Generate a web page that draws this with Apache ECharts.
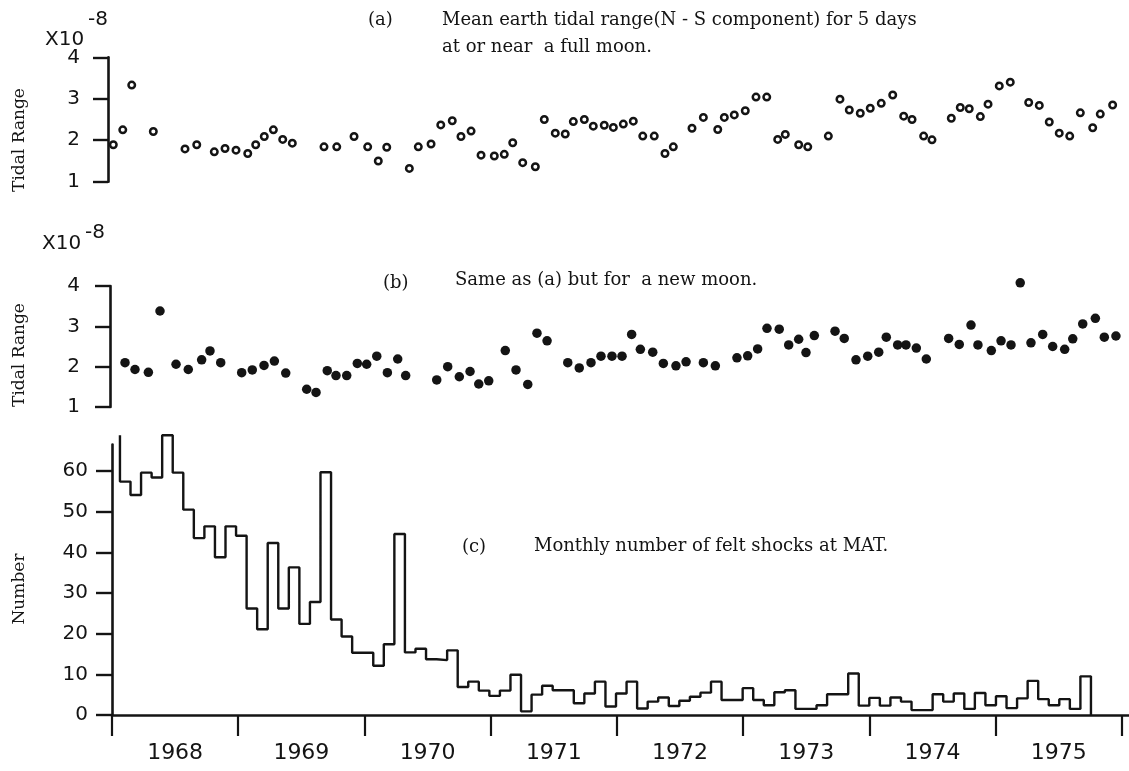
<!DOCTYPE html>
<html>
<head>
<meta charset="utf-8">
<script src="https://cdn.jsdelivr.net/npm/echarts@6/dist/echarts.min.js"></script>
<style>
html,body{margin:0;padding:0;background:#ffffff;}
#chart{width:1129px;height:771px;}
</style>
</head>
<body>
<div id="chart"></div>
<script>
// ---- Data ----
// (a) full moon: observation time (decimal year) and tidal range (x10^-8)
const fullMoonYear = [1968.010,1968.085,1968.156,1968.327,1968.578,1968.671,1968.810,1968.895,1968.982,1969.075,1969.138,1969.206,1969.278,1969.352,1969.428,1969.679,1969.780,1969.917,1970.025,1970.109,1970.176,1970.355,1970.426,1970.527,1970.604,1970.695,1970.764,1970.844,1970.923,1971.028,1971.107,1971.174,1971.253,1971.353,1971.424,1971.511,1971.590,1971.654,1971.741,1971.812,1971.899,1971.971,1972.050,1972.129,1972.204,1972.295,1972.380,1972.446,1972.594,1972.684,1972.798,1972.850,1972.929,1973.016,1973.101,1973.186,1973.273,1973.333,1973.439,1973.511,1973.674,1973.766,1973.840,1973.927,1974.006,1974.093,1974.184,1974.271,1974.337,1974.429,1974.495,1974.648,1974.719,1974.790,1974.878,1974.939,1975.028,1975.115,1975.261,1975.345,1975.424,1975.503,1975.586,1975.670,1975.768,1975.828,1975.926];
const fullMoonRange = [1.89,2.25,3.33,2.21,1.79,1.89,1.72,1.80,1.76,1.68,1.89,2.09,2.25,2.02,1.93,1.84,1.84,2.09,1.84,1.50,1.83,1.32,1.84,1.91,2.37,2.47,2.09,2.22,1.64,1.62,1.66,1.94,1.46,1.36,2.50,2.17,2.15,2.45,2.50,2.34,2.36,2.31,2.39,2.46,2.10,2.10,1.68,1.84,2.29,2.55,2.26,2.55,2.61,2.71,3.04,3.04,2.02,2.14,1.89,1.84,2.10,2.99,2.73,2.65,2.77,2.89,3.09,2.58,2.50,2.10,2.01,2.53,2.79,2.76,2.57,2.87,3.31,3.40,2.91,2.84,2.44,2.17,2.10,2.66,2.30,2.63,2.85];

// (b) new moon
const newMoonYear = [1968.103,1968.182,1968.288,1968.380,1968.507,1968.604,1968.710,1968.776,1968.861,1969.027,1969.111,1969.204,1969.286,1969.376,1969.542,1969.616,1969.705,1969.774,1969.859,1969.943,1970.017,1970.097,1970.181,1970.263,1970.326,1970.572,1970.659,1970.751,1970.836,1970.905,1970.984,1971.115,1971.200,1971.293,1971.366,1971.446,1971.610,1971.701,1971.794,1971.873,1971.960,1972.040,1972.116,1972.185,1972.283,1972.367,1972.467,1972.547,1972.684,1972.779,1972.950,1973.035,1973.114,1973.188,1973.285,1973.360,1973.439,1973.497,1973.563,1973.727,1973.800,1973.893,1973.986,1974.073,1974.133,1974.223,1974.289,1974.371,1974.450,1974.627,1974.711,1974.804,1974.859,1974.965,1975.042,1975.121,1975.194,1975.279,1975.372,1975.451,1975.546,1975.610,1975.689,1975.789,1975.860,1975.952];
const newMoonRange = [2.10,1.93,1.86,3.38,2.06,1.93,2.17,2.39,2.10,1.85,1.92,2.03,2.14,1.84,1.44,1.36,1.90,1.78,1.78,2.08,2.06,2.26,1.85,2.19,1.78,1.67,2.00,1.75,1.88,1.57,1.65,2.40,1.92,1.56,2.83,2.64,2.10,1.97,2.10,2.26,2.26,2.26,2.80,2.43,2.36,2.08,2.02,2.12,2.10,2.02,2.22,2.27,2.44,2.95,2.93,2.54,2.68,2.35,2.77,2.88,2.70,2.17,2.26,2.36,2.73,2.54,2.54,2.46,2.19,2.70,2.55,3.03,2.54,2.40,2.64,2.54,4.08,2.59,2.80,2.50,2.43,2.69,3.06,3.20,2.73,2.76];

// (c) monthly number of felt shocks at MAT (one value per month)
const shockCounts = [57.4,54.1,59.6,58.4,68.8,59.6,50.5,43.5,46.4,38.8,
  46.4,44.1,26.2,21.1,42.3,26.2,36.3,22.4,27.8,59.7,
  23.5,19.3,15.3,15.3,12.1,17.4,44.5,15.4,16.3,13.7,
  13.5,15.9,6.9,8.2,6.0,4.7,6.0,9.9,0.9,5.0,
  7.2,6.1,6.1,2.9,5.3,8.2,2.1,5.3,8.2,1.6,
  3.3,4.3,2.2,3.5,4.5,5.5,8.2,3.7,3.7,6.6,
  3.7,2.4,5.6,6.1,1.5,1.5,2.4,5.1,5.1,10.2,
  2.3,4.2,2.3,4.3,3.3,1.2,1.2,5.1,3.3,5.3,
  1.5,5.4,2.4,4.6,1.7,4.1,8.4,3.9,2.4,3.9,
  1.5,9.5];
const shockStartYear = 1968.063;   // left edge of first monthly bin
const shockMonthSpan = 0.0836;     // width of one bin in years
const leadEdgeTop = 68.8;          // top of the leading vertical edge

// tick labels
const yearTicks = [1968,1969,1970,1971,1972,1973,1974,1975,1976];
const yearLabels = [1968,1969,1970,1971,1972,1973,1974,1975];
const tidalTicks = [1,2,3,4];
const countTicks = [0,10,20,30,40,50,60];

// ---- Build ----
const INK = '#141414';
const chart = echarts.init(document.getElementById('chart'));

const shockData = [[shockStartYear, leadEdgeTop]];
shockCounts.forEach((v, i) => shockData.push([shockStartYear + i * shockMonthSpan, v]));
const shockEnd = shockStartYear + shockCounts.length * shockMonthSpan;
shockData.push([shockEnd, shockCounts[shockCounts.length - 1]]);
shockData.push([shockEnd, 0]);

function yAxisCfg(grid, min, max, ticks, tickLen, margin) {
  return {
    gridIndex: grid, type: 'value', min: min, max: max,
    axisLine: {show: true, onZero: false, lineStyle: {color: INK, width: 2.6}},
    axisTick: {show: true, customValues: ticks, length: tickLen, lineStyle: {color: INK, width: 2.4}},
    axisLabel: {show: true, customValues: ticks, margin: margin, color: INK,
      fontFamily: 'DejaVu Sans', fontSize: 20},
    splitLine: {show: false}
  };
}

function txt(text, x, y, size, family) {
  return {
    type: 'text', x: x, y: y, silent: true,
    style: {text: text, fill: INK, font: size + 'px "' + family + '"',
      fontSize: size, fontFamily: family,
      textAlign: 'left', align: 'left', textVerticalAlign: 'middle', verticalAlign: 'middle'}
  };
}
function vtxt(text, x, y, size) {
  return {
    type: 'text', x: x, y: y, rotation: Math.PI / 2, silent: true,
    style: {text: text, fill: INK, font: size + 'px "DejaVu Serif"', fontSize: size, fontFamily: 'DejaVu Serif',
      textAlign: 'center', align: 'center', textVerticalAlign: 'middle', verticalAlign: 'middle'}
  };
}

const option = {
  animation: false,
  backgroundColor: '#ffffff',
  grid: [
    {left: 108, top: 57.3, height: 124.4, right: 0.7, outerBoundsMode: 'none'},
    {left: 110, top: 286, height: 121, right: 0.7, outerBoundsMode: 'none'},
    {left: 112, top: 444.6, height: 270.4, right: 0.7, outerBoundsMode: 'none'}
  ],
  xAxis: [
    {gridIndex: 0, type: 'value', min: 1967.968, max: 1976.05, show: false},
    {gridIndex: 1, type: 'value', min: 1967.984, max: 1976.05, show: false},
    {gridIndex: 2, type: 'value', min: 1968, max: 1976.05,
      axisLine: {show: true, onZero: false, lineStyle: {color: INK, width: 2.6}},
      axisTick: {show: true, customValues: yearTicks, length: 21, lineStyle: {color: INK, width: 2.2}},
      axisLabel: {show: true, customValues: yearLabels.map(y => y + 0.5),
        formatter: v => String(Math.floor(v)), margin: 27, color: INK,
        fontFamily: 'DejaVu Sans', fontSize: 22},
      splitLine: {show: false}}
  ],
  yAxis: [
    yAxisCfg(0, 1, 4, tidalTicks, 15, 28),
    yAxisCfg(1, 1, 4, tidalTicks, 15, 30),
    yAxisCfg(2, 0, 66.5, countTicks, 16, 24)
  ],
  series: [
    {type: 'scatter', xAxisIndex: 0, yAxisIndex: 0, clip: false, silent: true,
      data: fullMoonYear.map((x, i) => [x, fullMoonRange[i]]),
      symbol: 'circle', symbolSize: 6.5,
      itemStyle: {color: '#ffffff', borderColor: INK, borderWidth: 2.5, opacity: 1}},
    {type: 'scatter', xAxisIndex: 1, yAxisIndex: 1, clip: false, silent: true,
      data: newMoonYear.map((x, i) => [x, newMoonRange[i]]),
      symbol: 'circle', symbolSize: 9.5,
      itemStyle: {color: INK, opacity: 1}},
    {type: 'line', xAxisIndex: 2, yAxisIndex: 2, clip: false, silent: true,
      data: shockData, step: 'end', symbol: 'none', showSymbol: false,
      lineStyle: {color: INK, width: 2.4}}
  ],
  graphic: [
    txt('X10', 45, 40, 20, 'DejaVu Sans'),
    txt('-8', 88, 20, 20, 'DejaVu Sans'),
    txt('X10', 42, 244, 20, 'DejaVu Sans'),
    txt('-8', 85, 233, 20, 'DejaVu Sans'),
    txt('(a)', 368, 20, 18, 'DejaVu Serif'),
    txt('Mean earth tidal range(N - S component) for 5 days', 442, 20, 18, 'DejaVu Serif'),
    txt('at or near  a full moon.', 442, 47, 18, 'DejaVu Serif'),
    txt('(b)', 383, 283, 18, 'DejaVu Serif'),
    txt('Same as (a) but for  a new moon.', 455, 280, 18, 'DejaVu Serif'),
    txt('(c)', 462, 547, 18, 'DejaVu Serif'),
    txt('Monthly number of felt shocks at MAT.', 534, 546, 18, 'DejaVu Serif'),
    vtxt('Tidal Range', 20, 140, 17),
    vtxt('Tidal Range', 20, 355, 17),
    vtxt('Number', 20, 589, 17)
  ]
};
chart.setOption(option);
</script>
</body>
</html>
